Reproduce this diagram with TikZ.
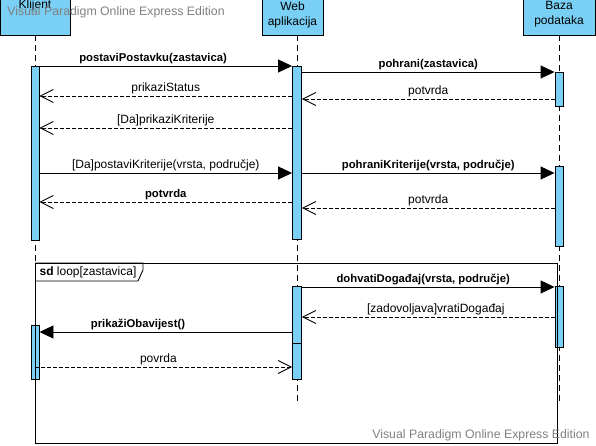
\documentclass[tikz,border=0pt]{standalone}
\usepackage{fontspec}
\setmainfont{Liberation Sans}
\usepackage{tikz}
\usetikzlibrary{positioning,arrows.meta}
\definecolor{actblue}{RGB}{122,207,245}
\definecolor{wmgray}{RGB}{128,128,128}

\begin{document}
\begin{tikzpicture}[x=1pt,y=-1pt,line width=0.9pt,
    head/.style={rectangle,draw,fill=actblue,align=center,inner sep=0pt,font=\fontsize{12}{15}\selectfont},
    act/.style={rectangle,draw,fill=actblue,minimum width=8pt,inner sep=0pt},
    lifeline/.style={dash pattern=on 6pt off 4pt},
    sync/.style={-{Triangle[length=14pt,width=13pt]}},
    reply/.style={dash pattern=on 4pt off 2pt,-{Straight Barb[length=13pt,width=13pt]}},
    lbl/.style={above,inner sep=1.5pt,font=\fontsize{12}{14}\selectfont},
    blbl/.style={above,inner sep=1.5pt,font=\fontsize{11.3}{14}\selectfont\bfseries},
    wmtext/.style={inner sep=0pt,text=wmgray,font=\fontsize{12.3}{14}\selectfont}]
\useasboundingbox (0,0) rectangle (596,446);

% lifelines
\node (klijent) at (35,5) [head,minimum width=70pt,minimum height=60pt] {Klijent};
\node (web) at (292.5,14.5) [head,minimum width=61pt,minimum height=41pt] {Web\\aplikacija};
\node (baza) at (559,14.5) [head,minimum width=72pt,minimum height=41pt] {Baza\\podataka};
\coordinate (kend) at (35,263);
\coordinate (wend) at (297,405);
\coordinate (bend) at (559,405);
\draw[lifeline] (klijent) -- (kend);
\draw[lifeline] (web.south -| wend) -- (wend);
\draw[lifeline] (baza) -- (bend);

% activations
\node (ak1) at (35,153) [act,minimum height=174pt] {};
\node (aw1) at (297,152.5) [act,minimum width=9pt,minimum height=173pt] {};
\node (ab1) at (559,89) [act,minimum height=34pt] {};
\node (ab2) at (559,206) [act,minimum height=80pt] {};
\node (aw2) at (297,314.5) [act,minimum width=9pt,minimum height=57pt] {};
\node (aw3) at (297,361) [act,minimum width=9pt,minimum height=36pt] {};
\node (ab3) at (559,316.5) [act,minimum height=61pt] {};
\node (ak2) at (35,352) [act,minimum height=54pt] {};

% messages
\draw[sync] (ak1.east |- 0,66) -- (aw1.west |- 0,66) node[blbl,pos=.45] {postaviPostavku(zastavica)};
\draw[reply] (aw1.west |- 0,96) -- (ak1.east |- 0,96) node[lbl,midway] {prikaziStatus};
\draw[reply] (aw1.west |- 0,128) -- (ak1.east |- 0,128) node[lbl,midway] {[Da]prikaziKriterije};
\draw[sync] (aw1.east |- 0,72) -- (ab1.west |- 0,72) node[blbl,midway] {pohrani(zastavica)};
\draw[reply] (ab1.west |- 0,99) -- (aw1.east |- 0,99) node[lbl,midway] {potvrda};
\draw[sync] (ak1.east |- 0,173) -- (aw1.west |- 0,173) node[lbl,midway] {[Da]postaviKriterije(vrsta, područje)};
\draw[reply] (aw1.west |- 0,202) -- (ak1.east |- 0,202) node[blbl,midway] {potvrda};
\draw[sync] (aw1.east |- 0,173) -- (ab2.west |- 0,173) node[blbl,midway] {pohraniKriterije(vrsta, područje)};
\draw[reply] (ab2.west |- 0,208) -- (aw1.east |- 0,208) node[lbl,midway] {potvrda};

% loop
\draw[sync] (aw2.east |- 0,287) -- (ab3.west |- 0,287) node[blbl,pos=.48] {dohvatiDogađaj(vrsta, područje)};
\draw[reply] (ab3.west |- 0,317) -- (aw2.east |- 0,317) node[lbl,pos=.47] {[zadovoljava]vratiDogađaj};
\draw[sync] (aw2.west |- 0,332) -- (ak2.east |- 0,332) node[blbl,pos=.61] {prikažiObavijest()};
\draw[reply] (ak2 |- 0,367) -- (aw3.west |- 0,367) node[lbl,pos=.48] {povrda};

\coordinate (fr1) at (35,263);
\coordinate (fr2) at (557,443);
\draw (fr1) rectangle (fr2);
\draw (fr1) -- ++(108,0) -- ++(0,7) -- ++(-5,11) -- (fr1 |- 0,281);
\node (sd) at (88,272) [font=\fontsize{12}{14}\selectfont] {\textbf{sd} loop[zastavica]};

\node (wm1) at (7,12) [wmtext,anchor=west] {Visual Paradigm Online Express Edition};
\node (wm2) at (590,435) [wmtext,anchor=east] {Visual Paradigm Online Express Edition};
\end{tikzpicture}
\end{document}
